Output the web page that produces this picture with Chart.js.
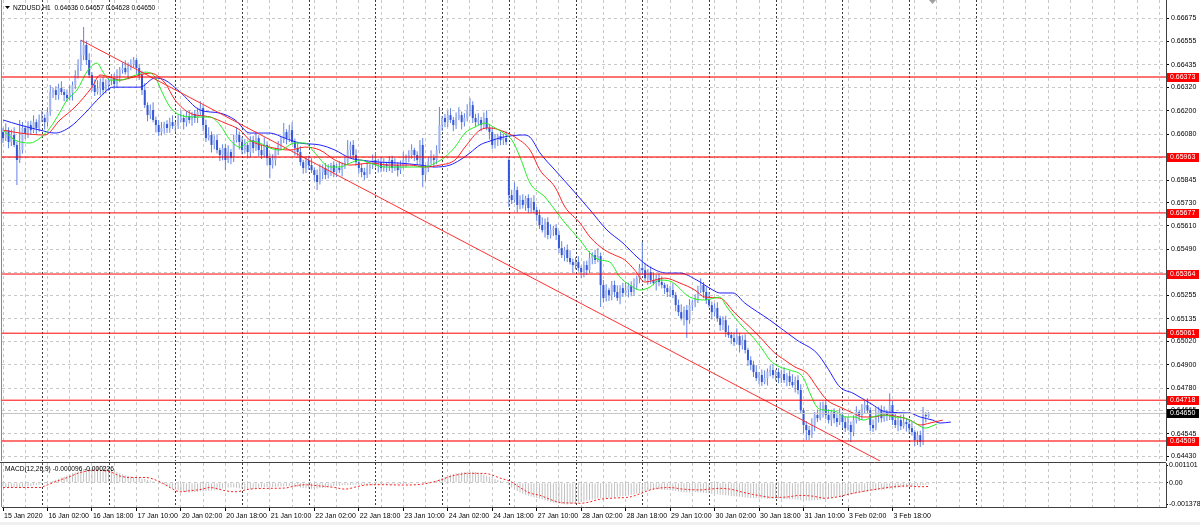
<!DOCTYPE html>
<html><head><meta charset="utf-8">
<script src="https://cdn.jsdelivr.net/npm/chart.js@4.4.1/dist/chart.umd.min.js"></script>
<style>
html,body{margin:0;padding:0;background:#fff;width:1200px;height:525px;overflow:hidden;}
#c1{position:absolute;left:0;top:0;}
#c2{position:absolute;left:0;top:462px;}
#bot{position:absolute;left:0;top:522px;width:1200px;height:3px;background:#f0f0f0;}
</style></head><body>
<canvas id="c1" width="1200" height="461"></canvas>
<canvas id="c2" width="1200" height="60"></canvas>
<div id="bot"></div>
<script>
// ---------- DATA ----------
const symbolTitle = 'NZDUSD,H1  0.64636 0.64657 0.64628 0.64650';
const macdTitle = 'MACD(12,26,9) -0.000096 -0.000226';

const opens = [0.66091,0.66060,0.66101,0.66040,0.66076,0.66025,0.65948,0.65999,0.66112,0.66086,0.66127,0.66101,0.66142,0.66112,
0.66153,0.66163,0.66142,0.66193,0.66296,0.66306,0.66281,0.66316,0.66296,0.66281,0.66265,0.66291,0.66332,0.66383,0.66434,0.66485,0.66537,0.66460,0.66383,0.66332,0.66296,0.66316,0.66347,0.66306,
0.66332,0.66357,0.66368,0.66337,0.66378,0.66409,0.66419,0.66398,0.66429,0.66439,0.66460,0.66419,0.66383,0.66306,0.66229,0.66178,0.66204,0.66153,0.66127,0.66091,0.66112,0.66132,0.66112,0.66142,
0.66122,0.66127,0.66153,0.66163,0.66142,0.66173,0.66153,0.66183,0.66163,0.66193,0.66214,0.66127,0.66060,0.66076,0.66025,0.66050,0.65999,0.65973,0.66009,0.65948,0.65989,0.65958,0.66050,0.66076,
0.66040,0.65999,0.66025,0.65989,0.66050,0.66009,0.66060,0.65999,0.65973,0.66025,0.65958,0.65922,0.65948,0.65999,0.66025,0.66050,0.66091,0.66060,0.66101,0.66040,0.66009,0.65989,0.65937,0.65907,
0.65948,0.65922,0.65896,0.65871,0.65835,0.65886,0.65907,0.65871,0.65896,0.65922,0.65886,0.65907,0.65896,0.65922,0.65937,0.65999,0.66025,0.65973,0.65937,0.65907,0.65886,0.65871,0.65907,0.65922,
0.65948,0.65922,0.65937,0.65907,0.65927,0.65917,0.65948,0.65907,0.65922,0.65896,0.65917,0.65948,0.65958,0.65973,0.65999,0.65973,0.65948,0.66025,0.65871,0.65907,0.65937,0.65958,0.65948,0.65999,
0.66127,0.66163,0.66142,0.66178,0.66153,0.66127,0.66163,0.66178,0.66142,0.66163,0.66204,0.66229,0.66163,0.66142,0.66153,0.66127,0.66163,0.66112,0.66091,0.66025,0.66050,0.66071,0.66050,0.66060,
0.65948,0.65768,0.65743,0.65794,0.65718,0.65743,0.65718,0.65753,0.65702,0.65733,0.65692,0.65666,0.65615,0.65589,0.65630,0.65564,0.65589,0.65599,0.65564,0.65497,0.65461,0.65487,0.65446,0.65425,
0.65410,0.65425,0.65395,0.65374,0.65410,0.65384,0.65446,0.65461,0.65436,0.65456,0.65308,0.65241,0.65282,0.65256,0.65308,0.65272,0.65241,0.65292,0.65267,0.65282,0.65302,0.65272,0.65313,0.65343,
0.65395,0.65384,0.65343,0.65374,0.65333,0.65318,0.65343,0.65323,0.65308,0.65292,0.65272,0.65282,0.65256,0.65205,0.65169,0.65138,0.65180,0.65128,0.65205,0.65220,0.65241,0.65282,0.65308,0.65272,
0.65231,0.65205,0.65169,0.65190,0.65138,0.65103,0.65128,0.65067,0.65052,0.65036,0.65016,0.65046,0.65000,0.65026,0.64975,0.64923,0.64898,0.64862,0.64831,0.64847,0.64811,0.64831,0.64862,0.64872,
0.64847,0.64862,0.64831,0.64852,0.64821,0.64841,0.64811,0.64795,0.64821,0.64770,0.64667,0.64591,0.64565,0.64539,0.64591,0.64642,0.64626,0.64667,0.64693,0.64642,0.64616,0.64657,0.64626,0.64606,
0.64642,0.64606,0.64575,0.64591,0.64555,0.64616,0.64657,0.64642,0.64678,0.64693,0.64667,0.64591,0.64575,0.64642,0.64667,0.64626,0.64657,0.64642,0.64693,0.64616,0.64591,0.64616,0.64585,0.64606,
0.64596,0.64575,0.64555,0.64514,0.64539,0.64504,0.64642,0.64636];

const highs = [0.66113,0.66136,0.66116,0.66104,0.66116,0.66043,0.66153,0.66142,0.66124,0.66147,0.66149,0.66177,0.66157,0.66181,
0.66203,0.66181,0.66218,0.66332,0.66318,0.66326,0.66338,0.66351,0.66311,0.66309,0.66331,0.66350,0.66408,0.66464,0.66562,0.66629,0.66559,0.66495,0.66398,0.66360,0.66356,0.66365,0.66372,0.66362,
0.66369,0.66388,0.66390,0.66413,0.66424,0.66447,0.66459,0.66447,0.66464,0.66475,0.66472,0.66439,0.66405,0.66341,0.66244,0.66232,0.66244,0.66171,0.66152,0.66142,0.66144,0.66152,0.66164,0.66177,
0.66142,0.66181,0.66203,0.66181,0.66198,0.66203,0.66195,0.66203,0.66215,0.66249,0.66229,0.66155,0.66116,0.66094,0.66075,0.66080,0.66011,0.66029,0.66031,0.66024,0.66004,0.66078,0.66116,0.66094,
0.66065,0.66055,0.66037,0.66070,0.66072,0.66095,0.66075,0.66027,0.66065,0.66043,0.65983,0.65978,0.66011,0.66045,0.66072,0.66137,0.66106,0.66129,0.66141,0.66058,0.66034,0.66019,0.65949,0.65968,
0.65970,0.65957,0.65911,0.65899,0.65926,0.65925,0.65932,0.65926,0.65934,0.65942,0.65929,0.65942,0.65937,0.65965,0.66050,0.66043,0.66050,0.66003,0.65949,0.65927,0.65908,0.65942,0.65937,0.65976,
0.65988,0.65955,0.65962,0.65957,0.65939,0.65968,0.65970,0.65957,0.65937,0.65945,0.65988,0.65976,0.65998,0.66029,0.66011,0.65993,0.66050,0.66060,0.65922,0.65965,0.65998,0.65976,0.66024,0.66219,
0.66175,0.66183,0.66200,0.66213,0.66168,0.66191,0.66218,0.66196,0.66188,0.66234,0.66265,0.66249,0.66185,0.66188,0.66168,0.66191,0.66203,0.66130,0.66116,0.66080,0.66083,0.66091,0.66082,0.66095,
0.65963,0.65796,0.65834,0.65812,0.65768,0.65773,0.65765,0.65773,0.65755,0.65768,0.65707,0.65694,0.65655,0.65648,0.65655,0.65619,0.65611,0.65619,0.65586,0.65532,0.65502,0.65515,0.65486,0.65443,
0.65450,0.65455,0.65407,0.65430,0.65432,0.65481,0.65476,0.65489,0.65496,0.65474,0.65333,0.65312,0.65294,0.65328,0.65330,0.65307,0.65307,0.65320,0.65322,0.65320,0.65327,0.65343,0.65355,0.65415,
0.65528,0.65419,0.65389,0.65402,0.65373,0.65361,0.65368,0.65353,0.65320,0.65312,0.65304,0.65317,0.65271,0.65233,0.65209,0.65198,0.65205,0.65235,0.65232,0.65261,0.65304,0.65343,0.65323,0.65300,
0.65271,0.65223,0.65215,0.65220,0.65150,0.65148,0.65150,0.65102,0.65067,0.65064,0.65086,0.65064,0.65051,0.65056,0.64987,0.64943,0.64920,0.64897,0.64862,0.64875,0.64871,0.64880,0.64897,0.64902,
0.64874,0.64882,0.64874,0.64887,0.64856,0.64869,0.64851,0.64839,0.64846,0.64800,0.64679,0.64611,0.64587,0.64626,0.64657,0.64670,0.64707,0.64711,0.64718,0.64672,0.64669,0.64677,0.64648,0.64677,
0.64657,0.64634,0.64631,0.64609,0.64641,0.64687,0.64669,0.64698,0.64715,0.64728,0.64682,0.64619,0.64682,0.64685,0.64692,0.64687,0.64669,0.64754,0.64715,0.64651,0.64631,0.64644,0.64646,0.64624,
0.64621,0.64605,0.64567,0.64559,0.64561,0.64683,0.64657,0.64657];

const lows = [0.66035,0.66045,0.66008,0.66020,0.66013,0.65820,0.65932,0.65981,0.66056,0.66060,0.66076,0.66086,0.66080,0.66092,
0.66141,0.66104,0.66120,0.66175,0.66266,0.66255,0.66256,0.66281,0.66249,0.66245,0.66253,0.66253,0.66310,0.66365,0.66404,0.66459,0.66435,0.66368,0.66300,0.66276,0.66284,0.66278,0.66284,0.66288,
0.66302,0.66331,0.66312,0.66322,0.66346,0.66389,0.66386,0.66360,0.66407,0.66421,0.66389,0.66357,0.66281,0.66214,0.66146,0.66158,0.66141,0.66089,0.66069,0.66073,0.66082,0.66086,0.66087,0.66107,
0.66090,0.66107,0.66141,0.66104,0.66120,0.66135,0.66123,0.66137,0.66138,0.66178,0.66095,0.66040,0.66048,0.65987,0.66003,0.65981,0.65943,0.65947,0.65897,0.65933,0.65926,0.65938,0.66038,0.66002,
0.65977,0.65981,0.65959,0.65963,0.65984,0.65994,0.65967,0.65953,0.65961,0.65920,0.65855,0.65904,0.65918,0.65973,0.66000,0.66035,0.66028,0.66040,0.66028,0.65971,0.65967,0.65919,0.65877,0.65881,
0.65897,0.65881,0.65839,0.65794,0.65823,0.65848,0.65849,0.65853,0.65866,0.65860,0.65861,0.65881,0.65864,0.65902,0.65925,0.65961,0.65951,0.65919,0.65877,0.65860,0.65846,0.65856,0.65875,0.65902,
0.65910,0.65884,0.65885,0.65889,0.65887,0.65891,0.65882,0.65892,0.65864,0.65876,0.65905,0.65910,0.65936,0.65955,0.65943,0.65922,0.65923,0.65809,0.65839,0.65887,0.65925,0.65910,0.65926,0.65981,
0.66097,0.66116,0.66117,0.66138,0.66095,0.66107,0.66151,0.66104,0.66120,0.66145,0.66174,0.66137,0.66117,0.66127,0.66095,0.66107,0.66100,0.66053,0.66003,0.66007,0.66020,0.66024,0.66025,0.66025,
0.65707,0.65723,0.65731,0.65680,0.65696,0.65700,0.65688,0.65676,0.65677,0.65677,0.65634,0.65595,0.65577,0.65551,0.65542,0.65546,0.65559,0.65538,0.65472,0.65446,0.65429,0.65426,0.65413,0.65372,
0.65388,0.65377,0.65344,0.65348,0.65359,0.65369,0.65414,0.65416,0.65424,0.65195,0.65219,0.65223,0.65226,0.65230,0.65247,0.65226,0.65209,0.65247,0.65255,0.65244,0.65250,0.65254,0.65283,0.65317,
0.65359,0.65328,0.65311,0.65313,0.65306,0.65280,0.65301,0.65290,0.65262,0.65246,0.65247,0.65241,0.65173,0.65149,0.65126,0.65100,0.65036,0.65110,0.65175,0.65194,0.65216,0.65267,0.65240,0.65211,
0.65193,0.65131,0.65147,0.65120,0.65073,0.65077,0.65042,0.65037,0.65004,0.64996,0.65004,0.64962,0.64978,0.64957,0.64893,0.64872,0.64837,0.64816,0.64799,0.64791,0.64799,0.64793,0.64840,0.64829,
0.64817,0.64805,0.64806,0.64806,0.64789,0.64791,0.64783,0.64757,0.64748,0.64649,0.64550,0.64514,0.64514,0.64524,0.64559,0.64606,0.64614,0.64629,0.64620,0.64598,0.64586,0.64600,0.64581,0.64591,
0.64574,0.64555,0.64563,0.64504,0.64533,0.64598,0.64612,0.64616,0.64653,0.64652,0.64559,0.64555,0.64563,0.64604,0.64604,0.64608,0.64612,0.64616,0.64591,0.64576,0.64559,0.64565,0.64573,0.64558,
0.64553,0.64537,0.64484,0.64488,0.64478,0.64489,0.64604,0.64628];

const closes = [0.66060,0.66101,0.66040,0.66076,0.66025,0.65948,0.65999,0.66112,0.66086,0.66127,0.66101,0.66142,0.66112,0.66153,
0.66163,0.66142,0.66193,0.66296,0.66306,0.66281,0.66316,0.66296,0.66281,0.66265,0.66291,0.66332,0.66383,0.66434,0.66485,0.66537,0.66460,0.66383,0.66332,0.66296,0.66316,0.66347,0.66306,0.66332,
0.66357,0.66368,0.66337,0.66378,0.66409,0.66419,0.66398,0.66429,0.66439,0.66460,0.66419,0.66383,0.66306,0.66229,0.66178,0.66204,0.66153,0.66127,0.66091,0.66112,0.66132,0.66112,0.66142,0.66122,
0.66127,0.66153,0.66163,0.66142,0.66173,0.66153,0.66183,0.66163,0.66193,0.66214,0.66127,0.66060,0.66076,0.66025,0.66050,0.65999,0.65973,0.66009,0.65948,0.65989,0.65958,0.66050,0.66076,0.66040,
0.65999,0.66025,0.65989,0.66050,0.66009,0.66060,0.65999,0.65973,0.66025,0.65958,0.65922,0.65948,0.65999,0.66025,0.66050,0.66091,0.66060,0.66101,0.66040,0.66009,0.65989,0.65937,0.65907,0.65948,
0.65922,0.65896,0.65871,0.65835,0.65886,0.65907,0.65871,0.65896,0.65922,0.65886,0.65907,0.65896,0.65922,0.65937,0.65999,0.66025,0.65973,0.65937,0.65907,0.65886,0.65871,0.65907,0.65922,0.65948,
0.65922,0.65937,0.65907,0.65927,0.65917,0.65948,0.65907,0.65922,0.65896,0.65917,0.65948,0.65958,0.65973,0.65999,0.65973,0.65948,0.66025,0.65871,0.65907,0.65937,0.65958,0.65948,0.65999,0.66127,
0.66163,0.66142,0.66178,0.66153,0.66127,0.66163,0.66178,0.66142,0.66163,0.66204,0.66229,0.66163,0.66142,0.66153,0.66127,0.66163,0.66112,0.66091,0.66025,0.66050,0.66071,0.66050,0.66060,0.66040,
0.65768,0.65743,0.65794,0.65718,0.65743,0.65718,0.65753,0.65702,0.65733,0.65692,0.65666,0.65615,0.65589,0.65630,0.65564,0.65589,0.65599,0.65564,0.65497,0.65461,0.65487,0.65446,0.65425,0.65410,
0.65425,0.65395,0.65374,0.65410,0.65384,0.65446,0.65461,0.65436,0.65456,0.65308,0.65241,0.65282,0.65256,0.65308,0.65272,0.65241,0.65292,0.65267,0.65282,0.65302,0.65272,0.65313,0.65343,0.65395,
0.65384,0.65343,0.65374,0.65333,0.65318,0.65343,0.65323,0.65308,0.65292,0.65272,0.65282,0.65256,0.65205,0.65169,0.65138,0.65180,0.65128,0.65205,0.65220,0.65241,0.65282,0.65308,0.65272,0.65231,
0.65205,0.65169,0.65190,0.65138,0.65103,0.65128,0.65067,0.65052,0.65036,0.65016,0.65046,0.65000,0.65026,0.64975,0.64923,0.64898,0.64862,0.64831,0.64847,0.64811,0.64831,0.64862,0.64872,0.64847,
0.64862,0.64831,0.64852,0.64821,0.64841,0.64811,0.64795,0.64821,0.64770,0.64667,0.64591,0.64565,0.64539,0.64591,0.64642,0.64626,0.64667,0.64693,0.64642,0.64616,0.64657,0.64626,0.64606,0.64642,
0.64606,0.64575,0.64591,0.64555,0.64616,0.64657,0.64642,0.64678,0.64693,0.64667,0.64591,0.64575,0.64642,0.64667,0.64626,0.64657,0.64642,0.64693,0.64616,0.64591,0.64616,0.64585,0.64606,0.64596,
0.64575,0.64555,0.64514,0.64539,0.64504,0.64642,0.64636,0.64650];

// Alligator lines (bar index, price)
const lipsIdx = [0,4.3,9.7,13.3,16.9,20.5,23,26.6,30.6,33.8,36,38.5,42.1,46.8,51.1,54.7,57.2,60.1,63.7,69.1,74.5,78.1,81.7,85.3,88.8,92.4,96,99.6,105,108.6,112.2,117.6,121.2,124.8,128.4,132,137.4,142.8,148.2,151.8,155.4,159,162.6,166.2,169.8,173.4,177,180.6,183.1,186,189.6,195,198.6,202.2,207.6,211.2,214.7,218.3,221.9,225.5,229.1,232.7,236.3,239.9,247.1,252.5,257.9,260.4,266.2,269.8,273.4,275.9,279.5,283.1,287.8,290.3,292.8,295.7,299.3,302.9,306.5,309.4,313,316.5,320.9,324.5,328.1,331.7,336];
const lipsVal = [0.66101,0.66050,0.66035,0.66060,0.66112,0.66193,0.66255,0.66306,0.66409,0.66444,0.66398,0.66357,0.66357,0.66378,0.66398,0.66373,0.66296,0.66219,0.66178,0.66168,0.66168,0.66127,0.66050,0.66014,0.66045,0.66035,0.66009,0.65999,0.66035,0.66035,0.65984,0.65912,0.65912,0.65932,0.65948,0.65932,0.65912,0.65912,0.65912,0.65912,0.65932,0.65963,0.66014,0.66086,0.66117,0.66137,0.66112,0.66081,0.66050,0.65963,0.65830,0.65758,0.65692,0.65625,0.65538,0.65471,0.65436,0.65425,0.65349,0.65308,0.65282,0.65297,0.65333,0.65328,0.65246,0.65231,0.65246,0.65195,0.65092,0.65041,0.64975,0.64923,0.64888,0.64872,0.64836,0.64754,0.64683,0.64667,0.64662,0.64632,0.64632,0.64616,0.64632,0.64642,0.64632,0.64626,0.64601,0.64575,0.64596];
const teethIdx = [0,6.1,15.1,20.5,25.9,32,34.9,38.5,42.1,45.7,52.9,58.3,61.9,67.3,74.5,79.9,85.3,88.8,96,103.2,108.6,114,119.4,124.8,132,139.2,146.4,151.8,157.2,162.6,166.2,171.6,175.2,180.6,184.2,189.6,193.2,198.6,202.2,207.6,211.2,216.5,220.1,223.7,227.3,230.9,234.5,238.1,243.5,248.9,252.5,257.9,263.3,268.7,272.3,277.7,281.3,284.9,289.2,292.8,296.4,301.1,305.8,309.4,313,317.3,322.7,326.3,329.9,333.5,338.1];
const teethVal = [0.66101,0.66086,0.66076,0.66153,0.66219,0.66321,0.66383,0.66373,0.66357,0.66368,0.66393,0.66342,0.66255,0.66188,0.66168,0.66137,0.66101,0.66050,0.66014,0.65999,0.66014,0.65999,0.65948,0.65922,0.65932,0.65922,0.65922,0.65912,0.65922,0.65948,0.66014,0.66101,0.66112,0.66091,0.66065,0.65999,0.65896,0.65809,0.65707,0.65625,0.65553,0.65487,0.65461,0.65436,0.65384,0.65323,0.65333,0.65343,0.65318,0.65282,0.65246,0.65241,0.65164,0.65092,0.65041,0.64959,0.64923,0.64888,0.64857,0.64785,0.64719,0.64683,0.64652,0.64632,0.64632,0.64642,0.64632,0.64616,0.64591,0.64601,0.64616];
const jawIdx = [0,6.1,13.3,18.7,24.1,29.5,34.9,39.6,43.9,49.3,54.7,58.3,63.7,70.9,78.1,83.5,88.8,96,101.4,106.8,114,119.4,124.8,128.4,135.6,142.8,150,155.4,160.8,164.4,168,171.6,175.2,179.9,187.1,189.6,193.2,198.6,205,211.2,217.3,223,228.1,232.7,238.8,243.5,249.6,255.4,257.9,262.6,266.9,275.9,285.6,292.8,296.4,301.1,305.8,311.9,318,326.3,329.9,334.5,337.1,341];
const jawVal = [0.66153,0.66127,0.66101,0.66086,0.66117,0.66188,0.66270,0.66321,0.66321,0.66321,0.66368,0.66357,0.66296,0.66204,0.66188,0.66153,0.66086,0.66086,0.66060,0.66035,0.66025,0.65999,0.65958,0.65948,0.65937,0.65932,0.65922,0.65912,0.65922,0.65948,0.65984,0.66025,0.66045,0.66065,0.66076,0.66065,0.65984,0.65896,0.65794,0.65692,0.65589,0.65523,0.65451,0.65400,0.65369,0.65369,0.65333,0.65282,0.65267,0.65267,0.65215,0.65128,0.65026,0.64959,0.64888,0.64785,0.64754,0.64703,0.64657,0.64652,0.64632,0.64616,0.64601,0.64606];

// Trend line (two anchor points: bar index, price)
const trendIdx = [28, 340];
const trendVal = [0.66562, 0.64223];

// Horizontal levels and current bid
const levelPrices = [0.66373, 0.65963, 0.65677, 0.65364, 0.65061, 0.64718, 0.64509];
const bidPrice = 0.64650;

// MACD histogram (main) and signal
const macdHist = [-0.00025,-0.00026,-0.00027,-0.00027,-0.00028,-0.00029,-0.00028,-0.00027,-0.00025,-0.00022,-0.00020,-0.00017,-0.00014,-0.00011,
-0.00007,-0.00003,0.00001,0.00006,0.00012,
0.00019,0.00026,0.00033,0.00040,0.00047,0.00054,0.00060,0.00066,0.00072,0.00078,0.00084,
0.00090,0.00095,0.00100,0.00104,0.00107,0.00110,0.00108,0.00104,0.00098,
0.00090,0.00080,0.00070,0.00062,0.00055,0.00048,0.00044,0.00040,
0.00037,0.00034,0.00031,0.00028,0.00024,0.00019,0.00014,0.00009,0.00004,
-0.00002,-0.00008,-0.00015,-0.00022,-0.00029,-0.00036,-0.00042,-0.00048,
-0.00053,-0.00057,-0.00060,-0.00062,-0.00061,-0.00059,-0.00056,-0.00053,
-0.00052,-0.00053,-0.00052,-0.00050,-0.00047,-0.00044,-0.00040,
-0.00036,-0.00032,-0.00030,-0.00029,-0.00030,-0.00032,-0.00034,
-0.00037,-0.00040,-0.00042,-0.00041,-0.00039,-0.00036,-0.00033,
-0.00030,-0.00028,-0.00027,-0.00027,-0.00026,-0.00025,-0.00024,-0.00023,-0.00022,-0.00021,-0.00021,-0.00022,-0.00024,-0.00027,-0.00030,
-0.00033,-0.00035,-0.00036,-0.00037,-0.00037,-0.00036,-0.00035,-0.00033,-0.00031,-0.00028,
-0.00025,-0.00022,-0.00020,-0.00018,-0.00016,-0.00015,-0.00014,-0.00014,-0.00013,-0.00013,-0.00013,-0.00014,-0.00015,-0.00015,-0.00016,-0.00016,-0.00015,-0.00014,-0.00013,-0.00012,-0.00011,-0.00010,-0.00010,-0.00009,-0.00009,-0.00008,
-0.00008,-0.00007,-0.00006,-0.00005,-0.00004,-0.00003,-0.00002,-0.00001,0.00000,0.00002,0.00004,0.00008,0.00014,
0.00022,0.00030,0.00038,0.00045,0.00051,0.00056,0.00060,0.00063,0.00066,0.00068,0.00070,0.00071,0.00070,0.00068,0.00064,
0.00058,0.00052,0.00045,0.00038,0.00030,0.00024,0.00018,0.00012,0.00008,0.00003,
-0.00015,-0.00030,-0.00042,-0.00052,-0.00061,-0.00069,-0.00076,-0.00082,-0.00087,-0.00092,-0.00096,
-0.00100,-0.00106,-0.00112,-0.00117,-0.00122,-0.00126,-0.00129,-0.00132,-0.00134,-0.00136,-0.00137,-0.00136,-0.00133,-0.00129,
-0.00125,-0.00121,-0.00117,-0.00113,-0.00110,-0.00107,-0.00104,-0.00101,-0.00099,-0.00097,-0.00096,-0.00095,
-0.00093,-0.00091,-0.00089,-0.00087,-0.00085,-0.00083,-0.00080,-0.00077,-0.00073,-0.00069,-0.00064,
-0.00058,-0.00053,-0.00049,-0.00046,-0.00044,-0.00043,-0.00043,-0.00044,-0.00045,-0.00046,-0.00048,
-0.00050,-0.00052,-0.00055,-0.00058,-0.00060,-0.00062,-0.00062,-0.00061,-0.00060,-0.00060,-0.00061,
-0.00063,-0.00065,-0.00067,-0.00069,-0.00071,-0.00073,-0.00075,-0.00077,-0.00079,-0.00081,-0.00083,
-0.00085,-0.00087,-0.00089,-0.00091,-0.00093,-0.00095,-0.00096,-0.00097,-0.00098,-0.00099,-0.00100,-0.00100,-0.00101,
-0.00101,-0.00101,-0.00100,-0.00100,-0.00101,-0.00102,-0.00103,-0.00104,-0.00105,-0.00106,-0.00108,-0.00110,
-0.00112,-0.00113,-0.00114,-0.00113,-0.00111,-0.00109,-0.00106,-0.00103,-0.00100,-0.00097,
-0.00094,-0.00091,-0.00088,-0.00085,-0.00082,-0.00079,-0.00076,-0.00073,
-0.00070,-0.00067,-0.00064,-0.00061,-0.00058,-0.00055,-0.00052,-0.00050,-0.00048,-0.00046,
-0.00044,-0.00042,-0.00040,-0.00038,-0.00036,-0.00034,-0.00032,-0.00030,-0.00028,-0.00026,-0.00024,-0.00022,-0.00020,-0.00018,-0.00016,-0.00014,-0.00012,-0.000096];
const signalIdx = [0,13.3,15.1,18.7,24.1,27.7,33.1,38.5,42.1,45.7,51.1,56.5,60.1,63.7,67.3,70.9,74.5,79.9,83.5,88.8,96,101.4,105,108.6,114,119.4,123,128.4,132,137.4,142.8,150,157.2,160.8,164.4,168,171.6,175.2,178.8,182.4,186,189.6,193.2,196.8,200.4,204,207.6,210.1,214.7,219.4,225.5,229.1,233.8,239.9,244.6,250.7,254.3,257.9,261.5,266.2,272.3,277,282,286.7,291.4,295.7,300,303.6,308.3,314.4,320.1,325.2,329.9,333.5];
const signalVal = [-0.0003,-0.0003,-0.0002,0.00006,0.0004,0.00065,0.0008,0.0007,0.00043,0.00034,0.00034,0.00006,-0.0003,-0.00057,-0.0005,-0.00043,-0.0003,-0.0005,-0.00057,-0.0004,-0.00035,-0.00033,-0.0002,-0.00012,-0.0002,-0.0003,-0.0004,-0.0002,-0.00012,-0.00012,-0.00014,-0.0001,0.00017,0.0004,0.00054,0.0006,0.0006,0.00054,0.0003,0.0001,-0.0003,-0.00065,-0.0008,-0.00105,-0.00125,-0.00128,-0.0013,-0.00125,-0.00105,-0.00097,-0.0009,-0.0007,-0.0004,-0.0003,-0.0004,-0.00045,-0.0004,-0.00035,-0.0004,-0.0006,-0.00082,-0.00093,-0.0009,-0.0008,-0.00085,-0.00098,-0.0009,-0.00075,-0.00058,-0.0004,-0.00026,-0.0002,-0.00025,-0.000226];

// Axis ticks / labels
const priceTicks = [0.66675,0.66555,0.66435,0.66320,0.66200,0.66080,0.65960,0.65845,0.65730,0.65610,0.65490,0.65370,0.65255,0.65135,0.65020,0.64900,0.64780,0.64665,0.64545,0.64430];
const macdTicks = [0.001101, 0, -0.001378];
const timeTickIdx = [0,16,32,48,64,80,96,112,128,144,160,176,192,208,224,240,256,272,288,304,320];
const timeLabels = ['15 Jan 2020','16 Jan 02:00','16 Jan 18:00','17 Jan 10:00','20 Jan 02:00','20 Jan 18:00','21 Jan 10:00','22 Jan 02:00','22 Jan 18:00','23 Jan 10:00','24 Jan 02:00','24 Jan 18:00','27 Jan 10:00','28 Jan 02:00','28 Jan 18:00','29 Jan 10:00','30 Jan 02:00','30 Jan 18:00','31 Jan 10:00','3 Feb 02:00','3 Feb 18:00'];
const dayStarts = [14,38,62,86,110,134,158,182,206,230,254,278,302,326,350];

// ---------- RENDER ----------
const FONT = '"Liberation Sans", Arial, sans-serif';
Chart.defaults.font.family = FONT;
Chart.defaults.font.size = 7;
Chart.defaults.color = '#000';

const X_MIN = -0.36, X_MAX = 418.4;
const gridTicks = [];
for (let v = 0; v <= 416; v += 8) gridTicks.push(v);

const pts = (xs, ys) => xs.map((x, k) => ({x, y: ys[k]}));
const idx = closes.map((_, i) => i);
const GRID = '#c8c8c8';

function zeroPad(s) { s.paddingTop = 0; s.paddingBottom = 0; s.paddingLeft = 0; s.paddingRight = 0; }

const daySepPlugin = {
  id: 'daySep',
  beforeDatasetsDraw(chart) {
    const {ctx, chartArea: a, scales: {x}} = chart;
    ctx.save();
    ctx.strokeStyle = '#3a3a3a'; ctx.lineWidth = 1; ctx.setLineDash([2, 2]);
    ctx.beginPath();
    dayStarts.forEach(d => {
      const px = Math.round(x.getPixelForValue(d)) + 0.5;
      if (px > a.left && px < a.right) { ctx.moveTo(px, a.top); ctx.lineTo(px, a.bottom); }
    });
    ctx.stroke();
    ctx.restore();
  }
};

const frameMain = {
  id: 'frameMain',
  afterDraw(chart) {
    const {ctx, chartArea: a, scales: {y}} = chart;
    ctx.save();
    ctx.strokeStyle = '#8a8a8a'; ctx.lineWidth = 1;
    ctx.beginPath(); ctx.moveTo(a.left - 0.5, 0); ctx.lineTo(a.left - 0.5, a.bottom); ctx.stroke();
    ctx.fillStyle = '#000';
    ctx.beginPath(); ctx.moveTo(5, 6); ctx.lineTo(10, 6); ctx.lineTo(7.5, 9); ctx.closePath(); ctx.fill();
    ctx.font = '6.6px ' + FONT; ctx.textBaseline = 'middle';
    ctx.fillText(symbolTitle, 13, 8);
    ctx.fillStyle = '#a0a0a0';
    ctx.beginPath(); ctx.moveTo(929, 0); ctx.lineTo(936, 0); ctx.lineTo(932.5, 4); ctx.closePath(); ctx.fill();
    ctx.font = '7px ' + FONT;
    const tag = (p, bg) => {
      const py = Math.round(y.getPixelForValue(p));
      ctx.fillStyle = bg; ctx.fillRect(a.right + 1, py - 4, 32, 9);
      ctx.fillStyle = '#fff'; ctx.fillText(p.toFixed(5), a.right + 4, py + 0.5);
    };
    levelPrices.forEach(p => tag(p, '#ff0000'));
    tag(bidPrice, '#000000');
    ctx.restore();
  }
};

const levelWidth = [2, 2, 1, 1, 1, 1, 2];
const levelColor = ['rgba(255,0,0,0.55)', 'rgba(255,0,0,0.55)', '#ff0000', '#ff0000', '#ff0000', '#ff0000', 'rgba(255,0,0,0.55)'];

const mainDatasets = [];
levelPrices.forEach((p, k) => mainDatasets.push({
  type: 'line', data: [{x: X_MIN, y: p}, {x: X_MAX, y: p}],
  borderColor: levelColor[k], borderWidth: levelWidth[k], pointRadius: 0, order: 1
}));
mainDatasets.push({type: 'line', data: [{x: X_MIN, y: bidPrice}, {x: X_MAX, y: bidPrice}], borderColor: '#c4c4c4', borderWidth: 1, pointRadius: 0, order: 3});
mainDatasets.push({type: 'line', data: pts(trendIdx, trendVal), borderColor: '#ff3030', borderWidth: 1, pointRadius: 0, order: 2});
mainDatasets.push({type: 'line', data: pts(lipsIdx, lipsVal), borderColor: '#22ee22', borderWidth: 1, pointRadius: 0, cubicInterpolationMode: 'monotone', order: 4});
mainDatasets.push({type: 'line', data: pts(teethIdx, teethVal), borderColor: '#ff2020', borderWidth: 1, pointRadius: 0, cubicInterpolationMode: 'monotone', order: 5});
mainDatasets.push({type: 'line', data: pts(jawIdx, jawVal), borderColor: '#2020ff', borderWidth: 1, pointRadius: 0, cubicInterpolationMode: 'monotone', order: 6});
mainDatasets.push({
  type: 'bar', data: idx.map(i => ({x: i, y: [opens[i], closes[i]]})),
  backgroundColor: ctx => (closes[ctx.dataIndex] >= opens[ctx.dataIndex] ? '#a3b5ef' : '#3457d6'),
  barThickness: 2, grouped: false, inflateAmount: 0, borderWidth: 0, order: 8
});
mainDatasets.push({
  type: 'bar', data: idx.map(i => ({x: i, y: [lows[i], highs[i]]})),
  backgroundColor: '#6283e4', barThickness: 1, grouped: false, inflateAmount: 0, borderWidth: 0, order: 9
});

new Chart(document.getElementById('c1'), {
  type: 'bar',
  data: {datasets: mainDatasets},
  options: {
    responsive: false, animation: false, events: [],
    layout: {padding: {left: 2, top: 0, right: 0, bottom: 0}},
    plugins: {legend: {display: false}, tooltip: {enabled: false}},
    scales: {
      x: {
        type: 'linear', min: X_MIN, max: X_MAX, offset: false, position: 'bottom',
        afterBuildTicks: s => { s.ticks = gridTicks.map(v => ({value: v})); },
        afterFit: s => { s.height = 0; zeroPad(s); },
        ticks: {display: false},
        grid: {color: GRID, lineWidth: 1, drawTicks: false, offset: false},
        border: {display: true, color: '#505050', width: 1, dash: [3, 3]}
      },
      y: {
        type: 'linear', position: 'right', min: 0.644066, max: 0.667673,
        afterBuildTicks: s => { s.ticks = priceTicks.map(v => ({value: v})); },
        afterFit: s => { s.width = 34; zeroPad(s); },
        ticks: {callback: v => Number(v).toFixed(5), padding: 2, font: {size: 7}, color: '#000'},
        grid: {color: GRID, lineWidth: 1, drawTicks: true, tickLength: 3, tickColor: '#000', tickBorderDash: []},
        border: {display: true, color: '#404040', width: 1, dash: [3, 3]}
      }
    }
  },
  plugins: [daySepPlugin, frameMain]
});

// ---------- MACD ----------
const frameMacd = {
  id: 'frameMacd',
  afterDraw(chart) {
    const {ctx, chartArea: a} = chart;
    ctx.save();
    ctx.strokeStyle = '#8a8a8a'; ctx.lineWidth = 1;
    ctx.beginPath(); ctx.moveTo(a.left - 0.5, 0); ctx.lineTo(a.left - 0.5, a.bottom); ctx.stroke();
    ctx.strokeStyle = '#404040';
    ctx.beginPath(); ctx.moveTo(0, a.top - 0.5); ctx.lineTo(a.right, a.top - 0.5); ctx.stroke();
    ctx.fillStyle = '#000'; ctx.font = '6.6px ' + FONT; ctx.textBaseline = 'middle';
    ctx.fillText(macdTitle, 5, a.top + 6);
    ctx.restore();
  }
};

new Chart(document.getElementById('c2'), {
  type: 'bar',
  data: {datasets: [
    {type: 'line', data: pts(signalIdx, signalVal), borderColor: '#ff2020', borderWidth: 1, borderDash: [2, 2], pointRadius: 0, cubicInterpolationMode: 'monotone', order: 1},
    {type: 'bar', data: idx.map(i => ({x: i, y: macdHist[i]})), backgroundColor: '#c0c0c0', barThickness: 1, grouped: false, inflateAmount: 0, borderWidth: 0, order: 2}
  ]},
  options: {
    responsive: false, animation: false, events: [],
    layout: {padding: {left: 2, top: 1, right: 0, bottom: 0}},
    plugins: {legend: {display: false}, tooltip: {enabled: false}},
    scales: {
      x: {
        type: 'linear', min: X_MIN, max: X_MAX, offset: false, position: 'bottom',
        afterBuildTicks: s => { s.ticks = gridTicks.map(v => ({value: v})); },
        afterFit: s => { s.height = 15; zeroPad(s); },
        ticks: {
          autoSkip: false, maxRotation: 0, minRotation: 0, align: 'start', labelOffset: 1, padding: 1,
          font: {size: 7}, color: '#000',
          callback: v => { const j = timeTickIdx.indexOf(v); return j >= 0 ? timeLabels[j] : ''; }
        },
        grid: {
          color: GRID, lineWidth: 1, offset: false, drawTicks: true, tickLength: 4, tickBorderDash: [],
          tickColor: c => (c.tick && timeTickIdx.indexOf(c.tick.value) >= 0 ? '#000' : 'rgba(0,0,0,0)')
        },
        border: {display: true, color: '#404040', width: 1, dash: [3, 3]}
      },
      y: {
        type: 'linear', position: 'right', min: -0.001535, max: 0.001258,
        afterBuildTicks: s => { s.ticks = macdTicks.map(v => ({value: v})); },
        afterFit: s => { s.width = 34; zeroPad(s); },
        ticks: {callback: v => (v === 0 ? '0.00' : Number(v).toFixed(6)), padding: 1, font: {size: 7}, color: '#000'},
        grid: {
          color: c => (c.tick && c.tick.value === 0 ? GRID : 'rgba(0,0,0,0)'),
          lineWidth: 1, drawTicks: true, tickLength: 2, tickColor: '#000', tickBorderDash: []
        },
        border: {display: true, color: '#404040', width: 1, dash: [3, 3]}
      }
    }
  },
  plugins: [daySepPlugin, frameMacd]
});
</script>
</body></html>
